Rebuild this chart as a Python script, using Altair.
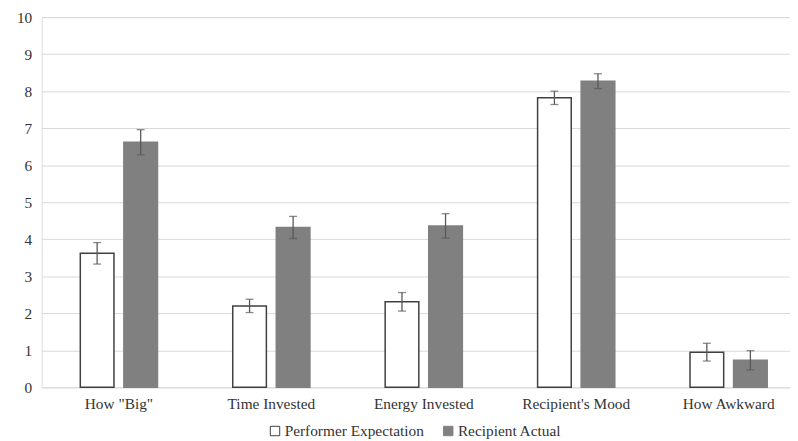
import altair as alt
import pandas as pd

categories = ['How "Big"', "Time Invested", "Energy Invested", "Recipient's Mood", "How Awkward"]
series = ["Performer Expectation", "Recipient Actual"]
performer_mean = [3.62, 2.20, 2.31, 7.82, 0.95]
performer_err = [0.29, 0.18, 0.25, 0.18, 0.24]
recipient_mean = [6.62, 4.32, 4.36, 8.27, 0.73]
recipient_err = [0.34, 0.30, 0.33, 0.20, 0.26]
y_ticks = list(range(0, 11))

rows = []
for i, c in enumerate(categories):
    rows.append({"cat": c, "series": series[0], "mean": performer_mean[i],
                 "lo": performer_mean[i] - performer_err[i], "hi": performer_mean[i] + performer_err[i]})
    rows.append({"cat": c, "series": series[1], "mean": recipient_mean[i],
                 "lo": recipient_mean[i] - recipient_err[i], "hi": recipient_mean[i] + recipient_err[i]})
df = pd.DataFrame(rows)

FONT = "Liberation Serif"
TXT = "#333333"
FS = 15.5

x = alt.X("cat:N", sort=categories, title=None,
          scale=alt.Scale(paddingInner=0.4286, paddingOuter=0.169, align=0.654),
          axis=alt.Axis(labelAngle=0, ticks=False, domain=False, labelPadding=9,
                        labelFontSize=FS, labelFont=FONT, labelColor=TXT))
xo = alt.XOffset("series:N", sort=series,
                 scale=alt.Scale(paddingInner=0.2273, paddingOuter=0.1136))

yscale = alt.Scale(domain=[0, 10], nice=False)
yaxis = alt.Axis(values=y_ticks, ticks=False, domain=False, labelPadding=10,
                 labelFontSize=FS, labelFont=FONT, labelColor=TXT, labelOverlap=False,
                 gridColor="#d9d9d9", gridWidth=1)


def Y(field):
    return alt.Y(field, title=None, scale=yscale, axis=yaxis)


base = alt.Chart(df)

bars = base.mark_bar(strokeWidth=1.5).encode(
    x=x, xOffset=xo,
    y=Y("mean:Q"),
    fill=alt.Fill("series:N", sort=series, title=None,
                  scale=alt.Scale(domain=series, range=["#ffffff", "#808080"]),
                  legend=alt.Legend(orient="none", legendX=228, legendY=410, direction="horizontal",
                                    symbolType="square", symbolSize=90, labelFont=FONT,
                                    labelFontSize=FS, labelColor=TXT, columnPadding=16,
                                    labelOffset=2, symbolStrokeWidth=1)),
    stroke=alt.Stroke("series:N", sort=series, title=None,
                      scale=alt.Scale(domain=series, range=["#404040", "#808080"])),
)

rule = base.mark_rule(color="#595959", strokeWidth=1.3).encode(
    x=x, xOffset=xo, y=Y("lo:Q"), y2="hi:Q")
cap_hi = base.mark_tick(color="#595959", thickness=1.3, size=8).encode(
    x=x, xOffset=xo, y=Y("hi:Q"))
cap_lo = base.mark_tick(color="#595959", thickness=1.3, size=8).encode(
    x=x, xOffset=xo, y=Y("lo:Q"))

chart = alt.layer(bars, rule, cap_hi, cap_lo).properties(
    width=756, height=374,
    padding={"left": 8, "top": 0, "right": 0, "bottom": 0},
).configure_view(stroke=None).configure(background="white")

chart.save("out.html", embed_options={"renderer": "svg", "actions": False})
